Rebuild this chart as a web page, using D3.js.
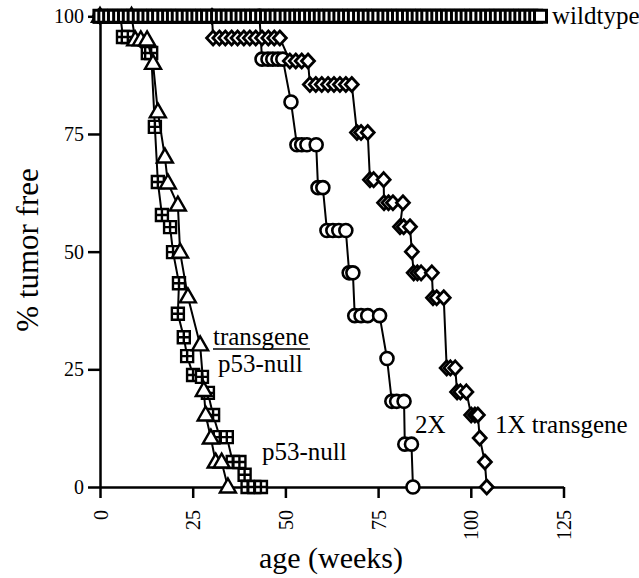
<!DOCTYPE html>
<html>
<head>
<meta charset="utf-8">
<script src="https://cdn.jsdelivr.net/npm/d3@7"></script>
<style>
body { margin: 0; background: #fff; }
svg text { font-family: "Liberation Serif", "Times New Roman", serif; fill: #000; }
</style>
</head>
<body>
<div id="chart"></div>
<script>
// [age in weeks, % tumor free]
const wildtype = [0,1.3,2.6,3.9,5.3,6.6,7.9,9.2,10.6,11.9,13.2,14.5,15.8,17.2,18.5,19.8,21.1,22.4,23.8,25.1,26.4,27.7,29,30.4,31.7,33,34.3,35.6,37,38.3,39.6,40.9,42.2,43.6,44.9,46.2,47.5,48.8,50.2,51.5,52.8,54.1,55.4,56.8,58.1,59.4,60.7,62,63.4,64.7,66,67.3,68.6,70,71.3,72.6,73.9,75.2,76.6,77.9,79.2,80.5,81.8,83.2,84.5,85.8,87.1,88.4,89.8,91.1,92.4,93.7,95,96.4,97.7,99,100.3,101.6,103,104.3,105.6,106.9,108.2,109.6,110.9,112.2,113.5,114.8,116.2,117.5,118.8]
  .map(a => [a, 100]);

const p53Null = [[0,100],[3,100],[5.5,100],[6.2,95.6],[7.5,95.6],[12.9,92.2],[13.8,92.2],
  [14.8,76.5],[15.6,64.8],[16.7,57.8],[18.9,55.2],[19.7,49.9],[21.3,43.3],[21,36.8],
  [22.6,31.8],[23.5,27.8],[25.1,23.8],[27.5,23.4],[29.1,20],[30.5,15.3],[32.3,10.6],[34.2,10.6],
  [35.8,5.3],[37.6,5.3],[39,2.6],[39.8,0],[41.6,0],[43.4,0]];

const transgeneNull = [[0,100],[8.5,100],[9.5,95],[11,95],[12.7,95],[14.3,90],[15.6,79.7],
  [17.5,70.1],[18.3,64.6],[21,59.9],[21.6,49.9],[23.7,40.4],[27,30.2],[28,20.5],[28.5,15.3],
  [29.9,10.4],[31.2,5.3],[32.8,5.3],[34.5,0]];

const twoX = [[0,100],[43,100],[43.7,90.9],[45.3,90.9],[46.6,90.9],[48,90.9],[49.3,90.9],
  [51.5,81.8],[53.1,72.7],[54.4,72.7],[55.8,72.7],[58.3,72.7],[58.8,63.6],[60.1,63.6],
  [61.2,54.5],[62.8,54.5],[64.4,54.5],[66.3,54.5],[67.2,45.5],[68.2,45.5],
  [68.7,36.4],[70.4,36.4],[72.2,36.4],[75.4,36.4],[77.4,27.3],[78.7,18.2],[80,18.2],[82,18.2],
  [82.2,9.1],[84,9.1],[84.4,0]];

const oneX = [[0,100],[30.2,100],[30.5,95.4],[32.2,95.4],[33.8,95.4],[35.5,95.4],[37.1,95.4],
  [38.8,95.4],[40.4,95.4],[42,95.4],[43.7,95.4],[45.4,95.4],[47,95.4],[48.5,95.4],
  [51.2,90.5],[52.8,90.5],[54.4,90.5],[56.1,90.5],
  [56.6,85.5],[58.2,85.5],[59.8,85.5],[61.5,85.5],[63.1,85.5],[64.7,85.5],[66.3,85.5],[67.9,85.5],
  [69.3,75.3],[70.4,75.3],[72.2,75.3],[72.8,65.3],[73.8,65.3],[76.5,65.3],
  [76.6,60.4],[77.8,60.4],[79,60.4],[81.7,60.4],[80.9,55.3],[81.9,55.3],[83.6,55.3],
  [84.1,50],[84.6,45.5],[85.6,45.5],[86.6,45.5],[89.5,45.5],[89.8,40.2],[90.8,40.2],[92.7,40.2],
  [93.5,25.3],[94.5,25.3],[95.8,25.3],[96.3,20.2],[97.2,20.2],[98.8,20.2],
  [100.1,15.3],[101.1,15.3],[101.9,15.3],[102.4,10.4],[103.8,5.3],[104.3,0]];

const xTicks = [0, 25, 50, 75, 100, 125];
const yTicks = [0, 25, 50, 75, 100];

const svg = d3.select("#chart").append("svg")
  .attr("width", 639).attr("height", 578);
svg.append("rect").attr("width", 639).attr("height", 578).attr("fill", "#fff");

const x = d3.scaleLinear().domain([0, 125]).range([100, 563.5]);
const y = d3.scaleLinear().domain([0, 100]).range([487, 16.3]);
const font = '"Liberation Serif", "Times New Roman", serif';

// axes
const yAxis = svg.append("g")
  .attr("transform", "translate(100,0)")
  .call(d3.axisLeft(y).tickValues(yTicks).tickSize(12).tickSizeOuter(0).tickPadding(4));
yAxis.attr("font-family", font).attr("font-size", 20);
yAxis.select(".domain").attr("stroke-width", 2.5);
yAxis.selectAll(".tick line").attr("stroke-width", 2.5);

const xAxis = svg.append("g")
  .attr("transform", "translate(0,487)")
  .call(d3.axisBottom(x).tickValues(xTicks).tickSize(11).tickSizeOuter(0));
xAxis.attr("font-family", font).attr("font-size", 20);
xAxis.select(".domain").attr("stroke-width", 2.5);
xAxis.selectAll(".tick line").attr("stroke-width", 2.5);
xAxis.selectAll(".tick text")
  .attr("transform", "rotate(-90)")
  .attr("text-anchor", "end")
  .attr("x", -23).attr("y", 0).attr("dy", "0.35em");

// marker shapes
const shapes = {
  square: "M-6,-6H6V6H-6Z",
  crossSquare: "M-6,-6H6V6H-6ZM0,-6V6M-6,0H6",
  triangle: "M0,-8.5L8,5.5H-8Z",
  diamond: "M0,-7L6.5,0L0,7L-6.5,0Z",
  circle: "M6.5,0A6.5,6.5 0 1,1 -6.5,0A6.5,6.5 0 1,1 6.5,0Z"
};

const line = d3.line().x(d => x(d[0])).y(d => y(d[1]));

function drawSeries(data, shape, sw) {
  svg.append("path").datum(data)
    .attr("d", line)
    .attr("fill", "none").attr("stroke", "#000").attr("stroke-width", 2);
  svg.append("g").selectAll("path")
    .data(data)
    .join("path")
    .attr("transform", d => "translate(" + x(d[0]) + "," + y(d[1]) + ")")
    .attr("d", shapes[shape])
    .attr("fill", "#fff").attr("stroke", "#000").attr("stroke-width", sw);
}

drawSeries(p53Null, "crossSquare", 2.4);
drawSeries(transgeneNull, "triangle", 2.4);
drawSeries(twoX, "circle", 2.6);
drawSeries(oneX, "diamond", 2.8);
drawSeries(wildtype, "square", 3);

// labels
const labels = [
  {t: "wildtype", x: 552, y: 24},
  {t: "transgene", x: 213, y: 345},
  {t: "p53-null", x: 218, y: 372},
  {t: "p53-null", x: 262, y: 460},
  {t: "2X", x: 415, y: 433},
  {t: "1X transgene", x: 495, y: 433}
];
svg.append("g").selectAll("text")
  .data(labels)
  .join("text")
  .attr("x", d => d.x).attr("y", d => d.y)
  .attr("font-size", 25)
  .text(d => d.t);
svg.append("line")
  .attr("x1", 213).attr("x2", 310).attr("y1", 349).attr("y2", 349)
  .attr("stroke", "#000").attr("stroke-width", 1.5);

svg.append("text")
  .attr("transform", "translate(38,250) rotate(-90)")
  .attr("text-anchor", "middle")
  .attr("font-size", 31)
  .text("% tumor free");

svg.append("text")
  .attr("x", 331).attr("y", 568)
  .attr("text-anchor", "middle")
  .attr("font-size", 30)
  .text("age (weeks)");
</script>
</body>
</html>
